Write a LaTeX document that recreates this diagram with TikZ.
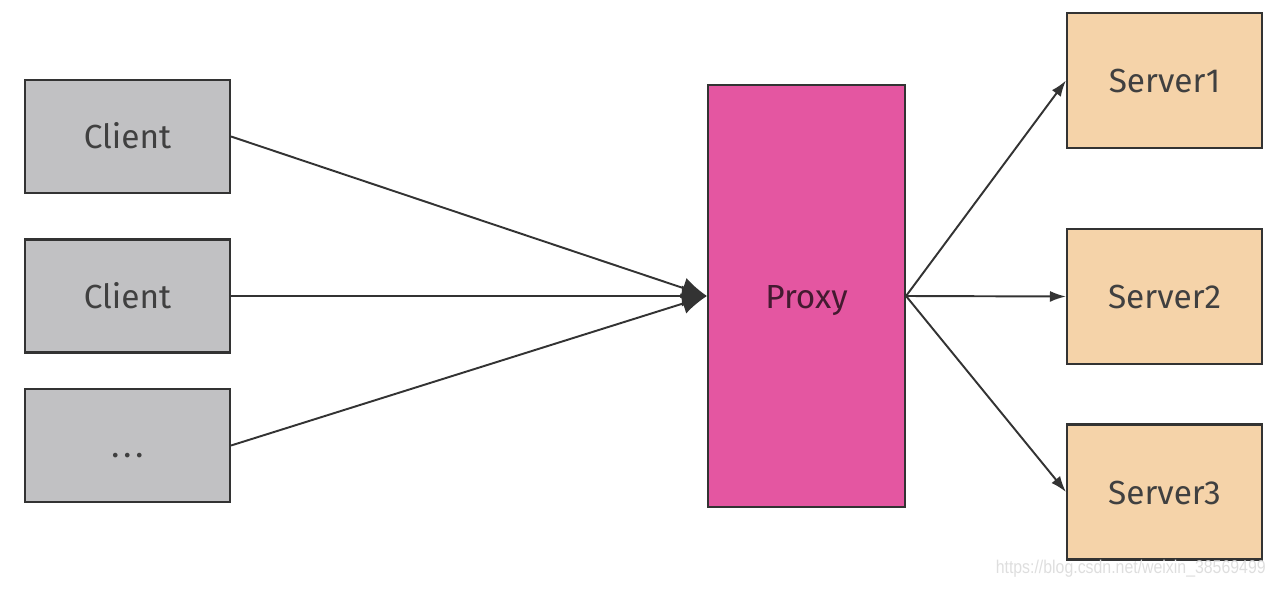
\documentclass[tikz,border=0pt]{standalone}
\usepackage{fontspec}
\setmainfont{Fira Sans}
\newfontfamily\wmfont{Liberation Sans}
\usetikzlibrary{arrows.meta}
\definecolor{clientfill}{HTML}{C1C1C3}
\definecolor{proxyfill}{HTML}{E456A1}
\definecolor{serverfill}{HTML}{F5D3A9}
\definecolor{edge}{HTML}{333333}
\definecolor{wm}{HTML}{DEDEDE}
\tikzset{
  box/.style={draw=edge, line width=1.2pt, inner sep=0pt, font=\fontsize{19}{22}\selectfont, text=black!75, text height=14pt, text depth=0pt},
  clientbox/.style={box, fill=clientfill, minimum width=4.1cm, minimum height=2.26cm},
  proxybox/.style={box, fill=proxyfill, minimum width=3.94cm, minimum height=8.44cm, text=black!70!proxyfill},
  serverbox/.style={box, fill=serverfill, minimum width=3.9cm, minimum height=2.7cm},
  bigarrow/.style={draw=edge, line width=1.1pt, -{Latex[length=0.5cm,width=0.42cm]}},
  smallarrow/.style={draw=edge, line width=1.1pt, -{Latex[length=0.32cm,width=0.22cm]}},
}
\begin{document}
\begin{tikzpicture}[x=0.02cm, y=-0.02cm]
\useasboundingbox (0,0) rectangle (1280,588);
\node[clientbox] (c1) at (127.5,136.5) {Client};
\node[clientbox] (c2) at (127.5,296) {Client};
\node[clientbox] (c3) at (127.5,445.5) {.\hspace{0.12em}.\hspace{0.12em}.};
\node[proxybox] (p) at (806.5,296) {Proxy};
\node[serverbox] (s1) at (1164.5,80.5) {Server1};
\node[serverbox] (s2) at (1164.5,296.5) {Server2};
\node[serverbox] (s3) at (1164.5,492) {Server3};
\draw[bigarrow] (c1.east) -- (p.west);
\draw[bigarrow] (c2.east) -- (p.west);
\draw[bigarrow] (c3.east) -- (p.west);
\draw[smallarrow] (p.east) -- (s1.west);
\draw[smallarrow] (p.east) -- (s2.west);
\draw[smallarrow] (p.east) -- (s3.west);
\node[anchor=east, text=wm, font=\wmfont\fontsize{10.5}{12}\selectfont, xscale=0.86] (wmk) at (1271,569) {https://blog.csdn.net/weixin\_38569499};
\end{tikzpicture}
\end{document}
